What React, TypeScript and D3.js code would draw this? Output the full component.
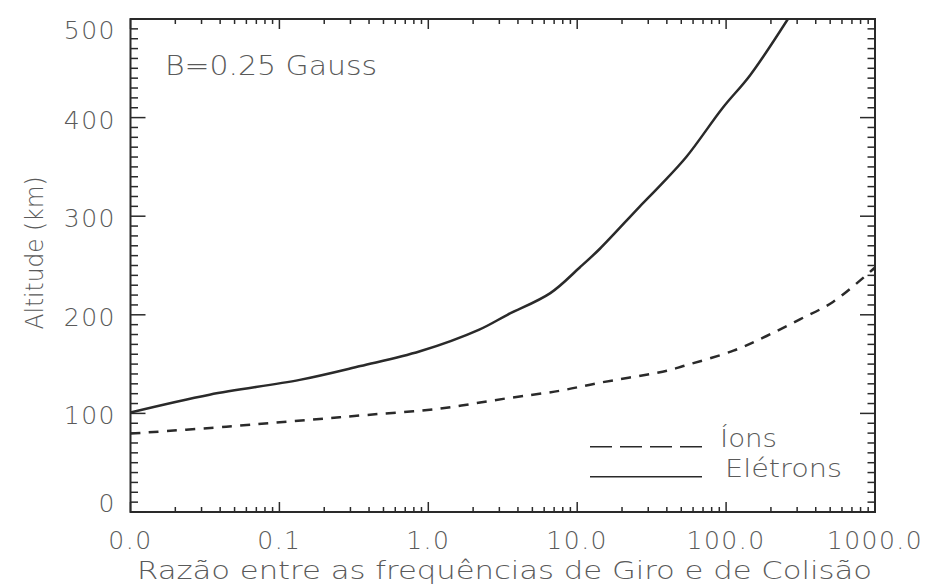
import React from "react";
import * as d3 from "d3";

// ---- data ----
const xTicks = [0.01, 0.1, 1, 10, 100, 1000];
const xTickLabels = ["0.0", "0.1", "1.0", "10.0", "100.0", "1000.0"];
const yTicks = [0, 100, 200, 300, 400, 500];
const yTickLabels = ["0", "100", "200", "300", "400", "500"];

const electronX = [0.01, 0.034, 0.137, 0.35, 0.88, 2.2, 3.4, 6.6, 10.4, 14.2, 26, 36, 54, 95, 145, 260];
const electronAlt = [101, 119, 134, 148, 163, 185, 200, 222, 248, 267, 309, 331, 360, 410, 443, 500];

const ionX = [0.01, 0.044, 0.152, 0.385, 1.14, 3.37, 7.67, 13.5, 40, 51.6, 112, 187, 313, 525, 1000];
const ionAlt = [79.5, 86.5, 93.3, 98.4, 104.5, 115.3, 123, 130.5, 143.3, 148, 163.6, 178.5, 195.4, 213.3, 248];

const seriesNames = ["Íons", "Elétrons"];
const annotation = "B=0.25 Gauss";
const xTitle = "Razão entre as frequências de Giro e de Colisão";
const yTitle = "Altitude (km)";

// ---- layout ----
const W = 934;
const H = 586;
const L = 130.5;
const R = 875;
const T = 19;
const B = 512;

const FONT = "'DejaVu Sans', 'Liberation Sans', sans-serif";
const TEXT = "#5a5a5a";
const INK = "#2a2a2a";

export default function App() {
  const x = d3.scaleLog().domain([0.01, 1000]).range([L, R]);
  const y = d3.scaleLinear().domain([0, 500]).range([B, T]);

  const line = d3
    .line<[number, number]>()
    .x((d) => x(d[0]))
    .y((d) => y(d[1]))
    .curve(d3.curveCatmullRom.alpha(0.5));

  const elec: [number, number][] = electronX.map((v, i) => [v, electronAlt[i]]);
  const ions: [number, number][] = ionX.map((v, i) => [v, ionAlt[i]]);

  const minorX: number[] = [];
  xTicks.slice(0, -1).forEach((d) => {
    for (let k = 2; k <= 9; k++) minorX.push(d * k);
  });
  const minorY = d3.range(0, 501, 10).filter((v) => v % 100 !== 0);

  const majX = 10, minX = 5, majY = 15, minY = 7.5;

  return (
    <div style={{ position: "fixed", left: 0, top: 0, width: W, height: H, background: "#fff" }}>
      <svg width={W} height={H} style={{ display: "block" }}>
        <defs>
          <clipPath id="plotclip">
            <rect x={L} y={T} width={R - L} height={B - T} />
          </clipPath>
        </defs>
        <rect x={0} y={0} width={W} height={H} fill="#fff" />

        {/* frame */}
        <rect x={L} y={T} width={R - L} height={B - T} fill="none" stroke={INK} strokeWidth={2} />

        {/* ticks on all four sides */}
        <g stroke={INK} strokeWidth={1.5}>
          {xTicks.map((t) => (
            <g key={"xm" + t}>
              <line x1={x(t)} x2={x(t)} y1={B} y2={B - majX} />
              <line x1={x(t)} x2={x(t)} y1={T} y2={T + majX} />
            </g>
          ))}
          {minorX.map((t) => (
            <g key={"xn" + t}>
              <line x1={x(t)} x2={x(t)} y1={B} y2={B - minX} />
              <line x1={x(t)} x2={x(t)} y1={T} y2={T + minX} />
            </g>
          ))}
          {yTicks.map((t) => (
            <g key={"ym" + t}>
              <line x1={L} x2={L + majY} y1={y(t)} y2={y(t)} />
              <line x1={R} x2={R - majY} y1={y(t)} y2={y(t)} />
            </g>
          ))}
          {minorY.map((t) => (
            <g key={"yn" + t}>
              <line x1={L} x2={L + minY} y1={y(t)} y2={y(t)} />
              <line x1={R} x2={R - minY} y1={y(t)} y2={y(t)} />
            </g>
          ))}
        </g>

        {/* tick labels */}
        <g fontFamily={FONT} fontWeight={200} fontSize={25} fill={TEXT} letterSpacing={1.5}>
          {xTicks.map((t, i) => (
            <text key={"xl" + t} x={x(t)} y={549} textAnchor="middle">
              {xTickLabels[i]}
            </text>
          ))}
          {yTicks.map((t, i) => (
            <text
              key={"yl" + t}
              x={116}
              y={Math.min(503, Math.max(30, y(t) + 2)) + 9}
              textAnchor="end"
            >
              {yTickLabels[i]}
            </text>
          ))}
        </g>

        {/* curves */}
        <g clipPath="url(#plotclip)" fill="none" stroke={INK} strokeWidth={2.5}>
          <path d={line(elec) || ""} />
          <path d={line(ions) || ""} strokeDasharray="10 8.3" />
        </g>

        {/* annotation */}
        <text x={165} y={75} fontFamily={FONT} fontWeight={200} fontSize={26} fill={TEXT} textLength={212} lengthAdjust="spacingAndGlyphs">
          {annotation}
        </text>

        {/* legend */}
        <g stroke={INK} strokeWidth={1.5}>
          <line x1={590} x2={702} y1={446.7} y2={446.7} strokeDasharray="22 8" />
          <line x1={590} x2={702} y1={476.7} y2={476.7} />
        </g>
        <g fontFamily={FONT} fontWeight={200} fontSize={25} fill={TEXT}>
          <text x={720} y={447} textLength={57} lengthAdjust="spacingAndGlyphs">{seriesNames[0]}</text>
          <text x={725} y={477} textLength={117} lengthAdjust="spacingAndGlyphs">{seriesNames[1]}</text>
        </g>

        {/* axis titles */}
        <text x={137} y={579} fontFamily={FONT} fontWeight={200} fontSize={24} fill={TEXT} textLength={735} lengthAdjust="spacingAndGlyphs">
          {xTitle}
        </text>
        <text
          transform="translate(43,253) rotate(-90)"
          textAnchor="middle"
          fontFamily={FONT}
          fontWeight={200}
          fontSize={25}
          fill={TEXT}
          textLength={153}
          lengthAdjust="spacingAndGlyphs"
        >
          {yTitle}
        </text>
      </svg>
    </div>
  );
}
